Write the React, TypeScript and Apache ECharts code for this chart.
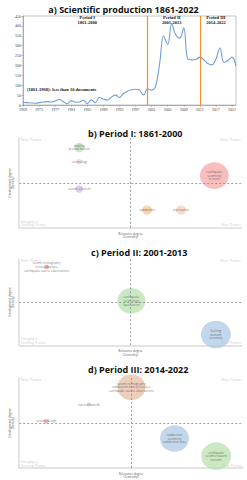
import React, { useEffect, useRef } from "react";
import * as echarts from "echarts";

// ---------- a) Scientific production ----------
const years = [
  "1969", "1970", "1971", "1972", "1973", "1974", "1975", "1976", "1977", "1978",
  "1979", "1980", "1981", "1982", "1983", "1984", "1985", "1986", "1987", "1988",
  "1989", "1990", "1991", "1992", "1993", "1994", "1995", "1996", "1997", "1998",
  "1999", "2000", "2001", "2002", "2003", "2004", "2005", "2006", "2007", "2008",
  "2009", "2010", "2011", "2012", "2013", "2014", "2015", "2016", "2017", "2018",
  "2019", "2020", "2021", "2022",
];
const documents = [
  13, 12, 10, 9, 12, 15, 17, 15, 20, 28,
  18, 6, 22, 14, 15, 24, 7, 26, 12, 38,
  30, 25, 40, 50, 38, 58, 70, 77, 80, 75,
  50, 82, 75, 95, 210, 350, 305, 410, 355, 338,
  390, 232, 228, 230, 242, 228, 210, 203, 232, 288,
  215, 225, 242, 197,
];
const periodBoundaries = ["2000", "2013"];
const periodNames = ["Period I\n1861-2000", "Period II\n2001-2013", "Period III\n2014-2022"];
const periodLabelYears = ["1985", "2006", "2017"];
const periodLabelValue = 430;
const earlyNote = "(1861-1968): less than 10 documents";
const earlyNoteYear = "1970";
const earlyNoteValue = 79;

// ---------- b) Period I ----------
const p1Themes = ["stability\nground motion", "seismology", "seismic element", "earthquake\nseismicity\ntectonic", "subduction", "attenuation"];
const p1Centrality = [27, 27, 27, 87.7, 57.5, 72.7];
const p1Density = [89.5, 73.6, 43.1, 58, 19.7, 19.7];
const p1Frequency = [10, 6, 8, 29, 10, 10];
const p1Colors = ["#b3dea6", "#f3c6e8", "#d5b3e4", "#f4a3a3", "#f8c288", "#f8c8b6"];

// ---------- c) Period II ----------
const p2Themes = [
  "seismic tomography\ncrustal structure\nearthquake source observations",
  "earthquake\nseismology\nliquefaction",
  "faulting\ntsunami\nseismicity",
];
const p2Centrality = [12.3, 50.4, 88.4];
const p2Density = [90.4, 51.2, 12.4];
const p2Frequency = [5, 28, 30];
const p2Colors = ["#ee8e8e", "#b3dea6", "#a8c6e2"];

// ---------- d) Period III ----------
const p3Themes = [
  "seismic tomography\nsubduction zone processes\nearthquake source observations",
  "natural hazards",
  "seismic design",
  "subduction\nseismicity\nsubduction zone",
  "earthquake\nseismic hazard\ntsunami",
];
const p3Centrality = [50.1, 31.2, 12.1, 69.4, 88];
const p3Density = [89.7, 70.3, 51.9, 32.6, 13];
const p3Frequency = [28, 4, 5, 29, 30];
const p3Colors = ["#e2b9a0", "#c8c8c8", "#f0a0a0", "#a8c6e2", "#b3dea6"];

const quadrantNames = ["Niche Themes", "Motor Themes", "Emerging or\nDeclining Themes", "Basic Themes"];

const sans = "'Open Sans', 'DejaVu Sans', sans-serif";
const serif = "'Liberation Serif', 'DejaVu Serif', serif";

function bubbleSeries(gi: number, themes: string[], cx: number[], dy: number[], freq: number[], colors: string[]) {
  return {
    type: "scatter",
    xAxisIndex: gi,
    yAxisIndex: gi,
    clip: false,
    silent: true,
    data: themes.map((t, i) => ({
      name: t,
      value: [cx[i], dy[i], freq[i]],
      itemStyle: { color: colors[i] },
    })),
    symbolSize: (v: number[]) => [v[2], v[2] * 0.92],
    itemStyle: { opacity: 0.7 },
    label: {
      show: true,
      position: "inside",
      formatter: (p: any) => p.name,
      fontSize: 3,
      lineHeight: 3.6,
      color: "#333",
      fontFamily: sans,
    },
    markLine: {
      silent: true,
      symbol: "none",
      label: { show: false },
      lineStyle: { type: [2, 2], color: "#8a8a8a", width: 0.8 },
      data: [{ xAxis: 50 }, { yAxis: 50 }],
    },
    z: 3,
  };
}

function quadrantSeries(gi: number) {
  const corners = [
    { v: [0.8, 100], align: "left", va: "top" },
    { v: [99.5, 100], align: "right", va: "top" },
    { v: [0.8, 0.5], align: "left", va: "bottom" },
    { v: [99.5, 0.5], align: "right", va: "bottom" },
  ];
  return {
    type: "scatter",
    xAxisIndex: gi,
    yAxisIndex: gi,
    silent: true,
    symbolSize: 0,
    data: quadrantNames.map((n, i) => ({
      name: n,
      value: corners[i].v,
      label: { align: corners[i].align, verticalAlign: corners[i].va },
    })),
    label: {
      show: true,
      position: "inside",
      formatter: (p: any) => p.name,
      fontSize: 3,
      lineHeight: 3.6,
      color: "#b5b5b5",
      fontFamily: sans,
    },
    z: 2,
  };
}

function panelAxes() {
  const x = {
    type: "value",
    min: 0,
    max: 100,
    axisLine: { show: true, lineStyle: { color: "#dcdcdc", width: 1.5 } },
    axisTick: { show: false },
    axisLabel: { show: false },
    splitLine: { show: false },
    name: "Relevance degree\n(Centrality)",
    nameLocation: "middle",
    nameGap: 4,
    nameTextStyle: { fontSize: 3, lineHeight: 3.6, color: "#555", fontFamily: sans },
  };
  const y = {
    type: "value",
    min: 0,
    max: 100,
    axisLine: { show: true, lineStyle: { color: "#dcdcdc", width: 1.5 } },
    axisTick: { show: false },
    axisLabel: { show: false },
    splitLine: { show: false },
    name: "Development degree\n(Density)",
    nameLocation: "middle",
    nameRotate: 90,
    nameGap: 4,
    nameTextStyle: { fontSize: 3, lineHeight: 3.6, color: "#555", fontFamily: sans },
  };
  return { x, y };
}

export default function App() {
  const ref = useRef<HTMLDivElement>(null);
  useEffect(() => {
    document.body.style.margin = "0";
    if (!ref.current) return;
    const chart = echarts.init(ref.current, null, { renderer: "svg" });
    const pb = panelAxes();
    const pc = panelAxes();
    const pd = panelAxes();
    const titleStyle = { fontSize: 9, fontWeight: "bold", color: "#111", fontFamily: sans };
    chart.setOption({
      animation: false,
      backgroundColor: "#ffffff",
      title: [
        { text: "a) Scientific production 1861-2022", left: "center", top: 0, textStyle: titleStyle },
        { text: "b) Period I: 1861-2000", left: 83, top: 124, textStyle: titleStyle },
        { text: "c) Period II: 2001-2013", left: 86, top: 243, textStyle: titleStyle },
        { text: "d) Period III: 2014-2022", left: 83, top: 360, textStyle: titleStyle },
      ],
      grid: [
        { left: 23, right: 11, top: 16, height: 89, show: true, borderColor: "#a0a0a0", borderWidth: 0.6 },
        { left: 11.7, right: 5.3, top: 138, height: 89.7 },
        { left: 11.7, right: 5.3, top: 258.7, height: 86.6 },
        { left: 10, right: 4, top: 378, height: 90 },
      ],
      xAxis: [
        {
          type: "category",
          gridIndex: 0,
          data: years,
          boundaryGap: false,
          axisLine: { lineStyle: { color: "#888", width: 0.6 } },
          axisTick: { interval: 3, length: 1.5, lineStyle: { color: "#888", width: 0.6 } },
          axisLabel: { interval: 3, fontSize: 4, color: "#444", fontFamily: serif, margin: 2 },
          splitLine: { show: false },
        },
        { ...pb.x, gridIndex: 1 },
        { ...pc.x, gridIndex: 2 },
        { ...pd.x, gridIndex: 3 },
      ],
      yAxis: [
        {
          type: "value",
          gridIndex: 0,
          min: 0,
          max: 450,
          interval: 50,
          axisLine: { show: true, lineStyle: { color: "#888", width: 0.6 } },
          axisTick: { show: true, length: 1.5, lineStyle: { color: "#888", width: 0.6 } },
          axisLabel: { fontSize: 4, color: "#444", fontFamily: serif, margin: 2 },
          splitLine: { show: false },
        },
        { ...pb.y, gridIndex: 1 },
        { ...pc.y, gridIndex: 2 },
        { ...pd.y, gridIndex: 3 },
      ],
      series: [
        {
          type: "line",
          xAxisIndex: 0,
          yAxisIndex: 0,
          data: documents,
          smooth: 0.4,
          showSymbol: false,
          lineStyle: { color: "#6f9fd8", width: 1.1 },
          itemStyle: { color: "#6f9fd8" },
          markLine: {
            silent: true,
            symbol: "none",
            label: { show: false },
            lineStyle: { type: "solid", color: "#f0902e", width: 1.2 },
            data: periodBoundaries.map((y) => ({ xAxis: y })),
          },
          markPoint: {
            silent: true,
            symbol: "circle",
            symbolSize: 0,
            label: {
              show: true,
              position: "inside",
              fontFamily: serif,
              fontWeight: "bold",
              fontSize: 4.5,
              lineHeight: 5,
              color: "#111",
            },
            data: [
              ...periodNames.map((n, i) => ({
                coord: [periodLabelYears[i], periodLabelValue],
                label: { formatter: n },
              })),
              {
                coord: [earlyNoteYear, earlyNoteValue],
                label: { formatter: earlyNote, align: "left" },
              },
            ],
          },
        },
        bubbleSeries(1, p1Themes, p1Centrality, p1Density, p1Frequency, p1Colors),
        quadrantSeries(1),
        bubbleSeries(2, p2Themes, p2Centrality, p2Density, p2Frequency, p2Colors),
        quadrantSeries(2),
        bubbleSeries(3, p3Themes, p3Centrality, p3Density, p3Frequency, p3Colors),
        quadrantSeries(3),
      ],
    });
    return () => chart.dispose();
  }, []);
  return <div ref={ref} style={{ width: 247, height: 480 }} />;
}
